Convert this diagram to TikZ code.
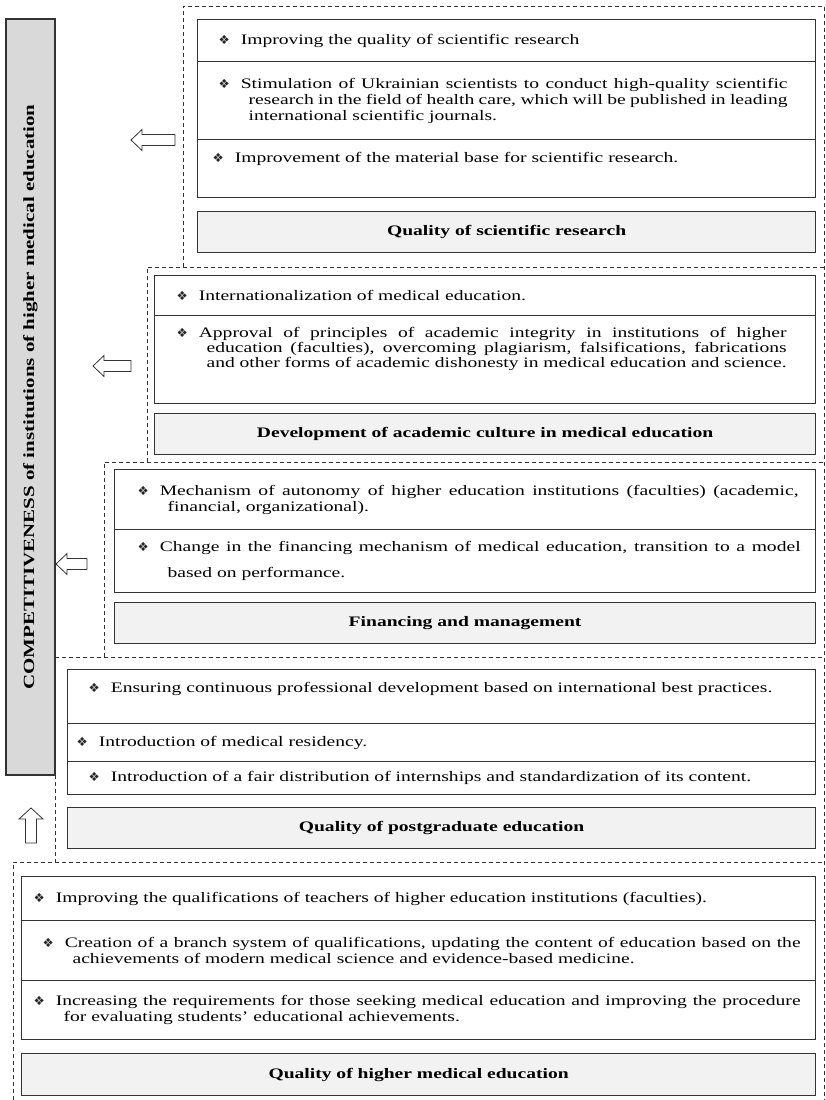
\documentclass[tikz,border=0pt]{standalone}
\usepackage{fontspec}
\setmainfont{Liberation Serif}[FakeStretch=1.35]
\newfontfamily\symf{DejaVu Sans}
\usepackage{xcolor}
\usepackage{tikz}
\definecolor{linec}{HTML}{333333}
\definecolor{barfill}{HTML}{D9D9D9}
\definecolor{ttlfill}{HTML}{F2F2F2}
\definecolor{bulc}{HTML}{262626}
\tikzset{
  rowbox/.style={draw=linec,line width=1.2pt,anchor=north west,inner sep=0pt,align=justify,font=\fontsize{14.5pt}{16pt}\selectfont},
  ttlbox/.style={draw=linec,line width=1.2pt,fill=ttlfill,anchor=north west,inner sep=0pt,font=\fontsize{14.5pt}{16pt}\selectfont\bfseries},
  grp/.style={draw=linec,line width=0.8pt,dash pattern=on 4pt off 3pt},
  blk/.style={draw=linec,line width=0.8pt,fill=white,line join=miter},
  bar/.style={draw=linec,line width=1.2pt,fill=barfill,inner sep=0pt,font=\fontsize{15.5pt}{17pt}\selectfont\bfseries}
}
\newcommand{\bul}{{\symf\fontsize{12.5pt}{12.5pt}\selectfont\color{bulc}❖}\hspace{11pt}}
% name, x, y, width, height, left pad, right pad, text
\newcommand{\rowb}[8]{\node[rowbox,text width=#4pt,minimum height=#5pt] (#1) at (#2,#3)
  {\leftskip=#6pt\rightskip=#7pt\hangindent=30pt\hangafter=1 #8\par};}
% name, x, y, width, height, title
\newcommand{\ttlb}[6]{\node[ttlbox,minimum width=#4pt,minimum height=#5pt] (#1) at (#2,#3) {#6};}
% tip x, mid y, tail x
\newcommand{\larr}[3]{\draw[blk] (#1,#2) -- (#1+11,#2-10.5) -- (#1+11,#2-5.5) -- (#3,#2-5.5)
  -- (#3,#2+5.5) -- (#1+11,#2+5.5) -- (#1+11,#2+10.5) -- cycle;}
\begin{document}
\begin{tikzpicture}[x=1pt,y=-1pt]
\fill[white] (0,0) rectangle (826,1100);
\useasboundingbox (0,0) rectangle (826,1100);
% dashed groups
\draw[grp] (183,267) -- (183,6) -- (824,6) -- (824,1100);
\draw[grp] (147,462) -- (147,267) -- (824,267);
\draw[grp] (104,657) -- (104,462) -- (824,462);
\draw[grp] (55,657) -- (824,657);
\draw[grp] (55,775) -- (55,862);
\draw[grp] (13,1100) -- (13,862) -- (824,862);
\node[bar,rotate=90,minimum width=756pt,minimum height=49pt] (comp) at (30.5,397) {COMPETITIVENESS of institutions of higher medical education};
% scientific research
\rowb{sra}{197}{19}{618}{42}{21}{28}{\bul Improving the quality of scientific research}
\rowb{srb}{197}{61}{618}{78}{21}{28}{\bul Stimulation of Ukrainian scientists to conduct high-quality scientific\linebreak research in the field of health care, which will be published in leading\linebreak international scientific journals.}
\rowb{src}{197}{139}{618}{58}{15}{28}{\bul Improvement of the material base for scientific research.\par\kern20pt}
\ttlb{srt}{197}{211}{618}{41}{Quality of scientific research}
% academic culture
\rowb{aca}{154}{275}{661}{40}{22}{29}{\bul Internationalization of medical education.}
\rowb{acb}{154}{315}{661}{88}{22}{29}{\baselineskip=15pt\bul Approval of principles of academic integrity in institutions of higher\linebreak education (faculties), overcoming plagiarism, falsifications, fabrications\linebreak and other forms of academic dishonesty in medical education and science.\par\kern22pt}
\ttlb{act}{154}{413}{661}{41}{Development of academic culture in medical education}
% financing
\rowb{fma}{114}{469}{701}{60}{23}{17}{\bul Mechanism of autonomy of higher education institutions (faculties) (academic,\linebreak financial, organizational).}
\rowb{fmb}{114}{529}{701}{63}{23}{15}{\baselineskip=26pt\bul Change in the financing mechanism of medical education, transition to a model\linebreak based on performance.}
\ttlb{fmt}{114}{602}{701}{41}{Financing and management}
% postgraduate
\rowb{pga}{67}{669}{748}{54}{21}{15}{\bul Ensuring continuous professional development based on international best practices.\par\kern16pt}
\rowb{pgb}{67}{723}{748}{38}{9}{15}{\bul Introduction of medical residency.}
\rowb{pgc}{67}{761}{748}{33}{21}{15}{\bul Introduction of a fair distribution of internships and standardization of its content.}
\ttlb{pgt}{67}{807}{748}{41}{Quality of postgraduate education}
% higher medical education
\rowb{hma}{21}{876}{794}{44}{12}{15}{\bul Improving the qualifications of teachers of higher education institutions (faculties).}
\rowb{hmb}{21}{920}{794}{60}{21}{15}{\bul Creation of a branch system of qualifications, updating the content of education based on the\linebreak achievements of modern medical science and evidence-based medicine.}
\rowb{hmc}{21}{980}{794}{59}{12}{15}{\bul Increasing the requirements for those seeking medical education and improving the procedure\linebreak for evaluating students' educational achievements.}
\ttlb{hmt}{21}{1053}{794}{42}{Quality of higher medical education}
% arrows
\larr{131}{140}{175}
\larr{93}{366}{131}
\larr{56}{564}{87}
\draw[blk] (31,808) -- (43,819) -- (36.5,819) -- (36.5,843) -- (25.5,843) -- (25.5,819) -- (19,819) -- cycle;
\end{tikzpicture}
\end{document}
